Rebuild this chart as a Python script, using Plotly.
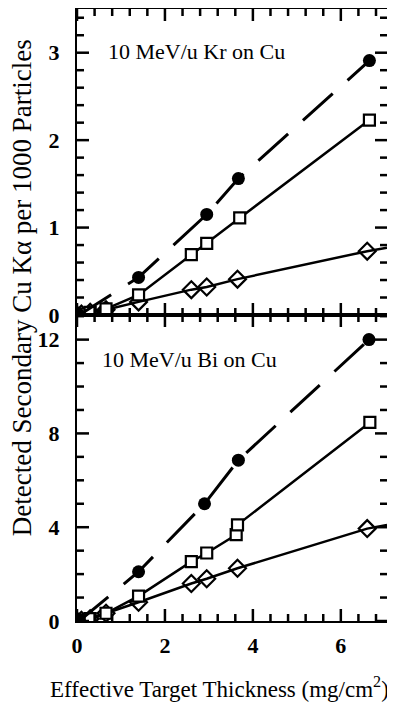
import numpy as np
import plotly.graph_objects as go
from plotly.subplots import make_subplots

# Kr on Cu (top panel)
kr_circle_x = [0, 0.05, 1.4, 2.95, 3.67, 6.65]
kr_circle_y = [0, 0.0, 0.43, 1.15, 1.56, 2.91]
kr_square_x = [0, 0.1, 0.3, 0.66, 1.4, 2.6, 2.95, 3.7, 6.65]
kr_square_y = [0, 0.01, 0.03, 0.07, 0.23, 0.69, 0.82, 1.11, 2.23]
kr_diamond_x = [0, 0.1, 0.3, 0.66, 1.4, 2.6, 2.95, 3.65, 6.6, 7.05]
kr_diamond_y = [0, 0.01, 0.03, 0.06, 0.15, 0.29, 0.32, 0.41, 0.73, 0.77]

# Bi on Cu (bottom panel)
bi_circle_x = [0, 0.05, 1.4, 2.9, 3.67, 6.64]
bi_circle_y = [0, 0.0, 2.1, 5.0, 6.86, 12.0]
bi_square_x = [0, 0.1, 0.3, 0.66, 1.4, 2.6, 2.95, 3.62, 3.65, 6.66]
bi_square_y = [0, 0.03, 0.1, 0.33, 1.06, 2.53, 2.9, 3.68, 4.1, 8.47]
bi_diamond_x = [0, 0.1, 0.3, 0.66, 1.4, 2.6, 2.95, 3.65, 6.6, 7.05]
bi_diamond_y = [0, 0.03, 0.1, 0.33, 0.8, 1.6, 1.8, 2.25, 3.94, 4.1]

x_ticks = [0, 2, 4, 6]
top_ticks = [0, 1, 2, 3]
bottom_ticks = [0, 4, 8, 12]

X_RANGE = [0, 7.05]
TOP_RANGE = [0, 3.5]
BOT_RANGE = [0, 13.05]

FONT = "Liberation Serif"

# page body has an 8px margin, so the figure is sized to the visible part
W, H = 387, 696
M = dict(l=69, r=8, t=1, b=83)
PW = W - M["l"] - M["r"]
PH = (H - M["t"] - M["b"]) / 2.0

fig = make_subplots(rows=2, cols=1, shared_xaxes=True, vertical_spacing=0)

def add_series(row, cx, cy, sx, sy, dx, dy):
    fig.add_trace(go.Scatter(x=dx, y=dy, mode="lines", line=dict(color="black", width=2.5),
                             showlegend=False, hoverinfo="skip"), row=row, col=1)
    fig.add_trace(go.Scatter(x=dx[:-1], y=dy[:-1], mode="markers",
                             marker=dict(symbol="diamond-open", size=13, color="black", line=dict(width=2.2)),
                             showlegend=False), row=row, col=1)
    fig.add_trace(go.Scatter(x=sx, y=sy, mode="lines+markers", line=dict(color="black", width=2.5),
                             marker=dict(symbol="square", size=11, color="white", line=dict(width=2.2, color="black")),
                             showlegend=False), row=row, col=1)
    fig.add_trace(go.Scatter(x=cx, y=cy, mode="lines+markers",
                             line=dict(color="black", width=3, dash="40px,20px"),
                             marker=dict(symbol="circle", size=13, color="black"),
                             showlegend=False), row=row, col=1)

add_series(1, kr_circle_x, kr_circle_y, kr_square_x, kr_square_y, kr_diamond_x, kr_diamond_y)
add_series(2, bi_circle_x, bi_circle_y, bi_square_x, bi_square_y, bi_diamond_x, bi_diamond_y)

# inside tick marks drawn as line segments (major + minor) on all four sides
MAJ, MIN = 12, 7
xu = (X_RANGE[1] - X_RANGE[0]) / PW  # data units per pixel along x

def tick_trace(row, major_y, minor_step, yrange):
    yu = (yrange[1] - yrange[0]) / PH
    tx, ty = [], []
    for v in np.arange(yrange[0], yrange[1] + 1e-9, minor_step):
        v = float(v)
        ln = MAJ if any(abs(v - m) < 1e-6 for m in major_y) else MIN
        tx += [X_RANGE[0], X_RANGE[0] + ln * xu, None, X_RANGE[1], X_RANGE[1] - ln * xu, None]
        ty += [v, v, None, v, v, None]
    for v in np.arange(X_RANGE[0], X_RANGE[1] + 1e-9, 0.4):
        v = float(v)
        ln = MAJ if any(abs(v - m) < 1e-6 for m in x_ticks) else MIN
        tx += [v, v, None, v, v, None]
        ty += [yrange[0], yrange[0] + ln * yu, None, yrange[1], yrange[1] - ln * yu, None]
    fig.add_trace(go.Scatter(x=tx, y=ty, mode="lines", line=dict(color="black", width=2.5),
                             showlegend=False, hoverinfo="skip"), row=row, col=1)

tick_trace(1, top_ticks, 0.2, TOP_RANGE)
tick_trace(2, bottom_ticks, 1, BOT_RANGE)

tickfont = dict(family=FONT, size=22, color="black", weight="bold")
common = dict(showgrid=False, zeroline=False, showline=True, linecolor="black", linewidth=2,
              mirror=True, ticks="", automargin=False, tickfont=tickfont)

fig.update_xaxes(range=X_RANGE, tickvals=x_ticks, ticklabelstandoff=4, **common)
fig.update_xaxes(showticklabels=False, row=1, col=1)
fig.update_yaxes(range=TOP_RANGE, tickvals=top_ticks, ticklabelstandoff=11, row=1, col=1, **common)
fig.update_yaxes(range=BOT_RANGE, tickvals=bottom_ticks, ticklabelstandoff=11, row=2, col=1, **common)

fig.add_annotation(text="10 MeV/u Kr on Cu", x=0.66, y=3.01, xref="x", yref="y", xanchor="left",
                   showarrow=False, font=dict(family=FONT, size=22, color="black"))
fig.add_annotation(text="10 MeV/u Bi on Cu", x=0.52, y=11.14, xref="x2", yref="y2", xanchor="left",
                   showarrow=False, font=dict(family=FONT, size=22, color="black"))
fig.add_annotation(text="Detected Secondary Cu Kα per 1000 Particles", x=-0.177, y=0.544,
                   xref="paper", yref="paper", textangle=-90, showarrow=False,
                   xanchor="center", yanchor="middle",
                   font=dict(family=FONT, size=27, color="black"))
fig.add_annotation(text="Effective Target Thickness (mg/cm<sup>2</sup>)", x=0.461, y=-0.108,
                   xref="paper", yref="paper", showarrow=False, xanchor="center", yanchor="middle",
                   font=dict(family=FONT, size=23, color="black"))

fig.update_layout(width=W, height=H, margin=dict(autoexpand=False, **M),
                  plot_bgcolor="white", paper_bgcolor="white")

fig.write_html("out.html")
